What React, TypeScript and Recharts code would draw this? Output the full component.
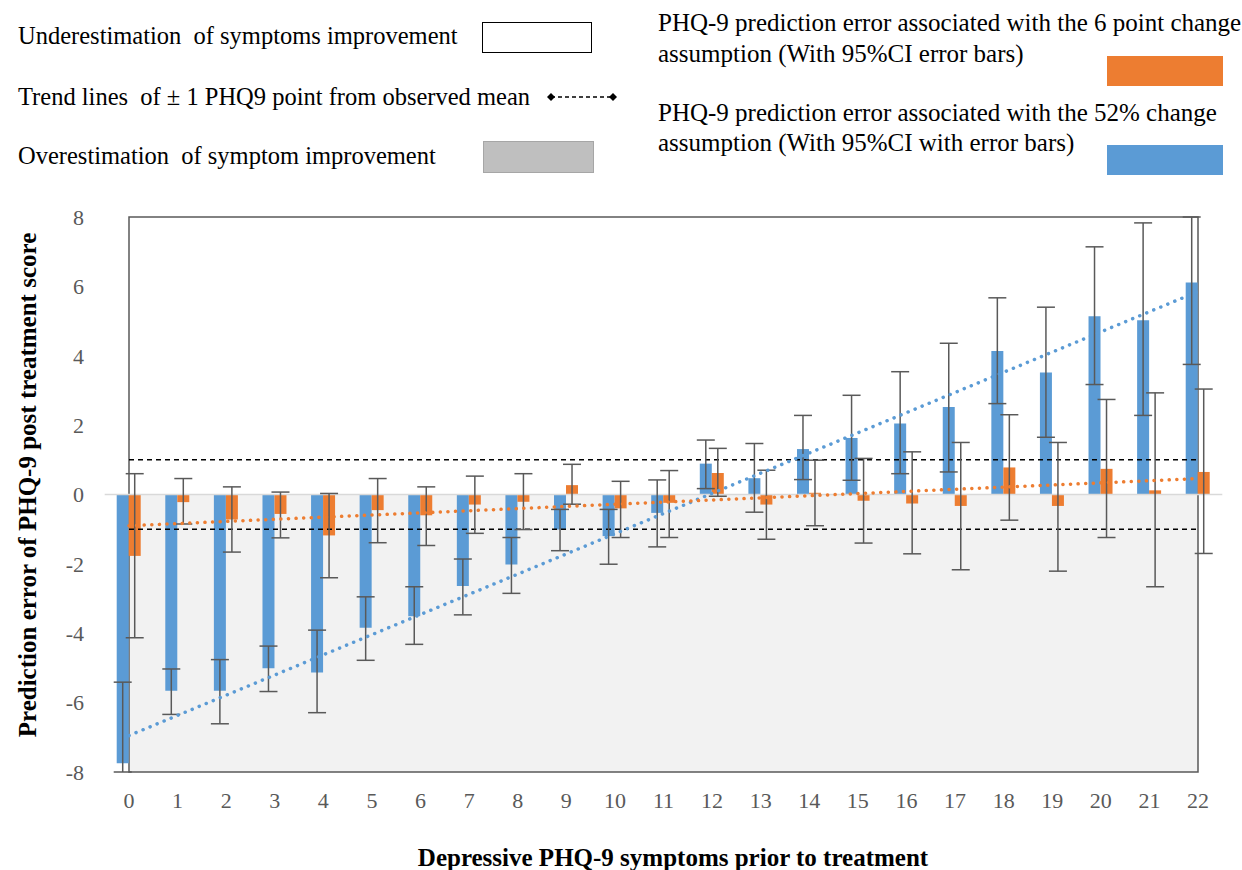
import React from 'react';
import {
  ComposedChart,
  Bar,
  Line,
  XAxis,
  YAxis,
  ErrorBar,
  ReferenceArea,
  ReferenceLine
} from 'recharts';

// PHQ-9 score before treatment (x categories)
const scores = [0, 1, 2, 3, 4, 5, 6, 7, 8, 9, 10, 11, 12, 13, 14, 15, 16, 17, 18, 19, 20, 21, 22];

// 52% change assumption (blue), mean and 95% CI
const pctMean = [-7.75, -5.66, -5.66, -5.01, -5.13, -3.84, -3.51, -2.64, -2.02, -1.01, -1.2, -0.53, 0.89, 0.47, 1.31, 1.63, 2.05, 2.52, 4.14, 3.52, 5.14, 5.02, 6.11];
const pctLow = [-8, -6.34, -6.61, -5.68, -6.29, -4.78, -4.32, -3.47, -2.85, -1.62, -2.01, -1.51, 0.17, -0.51, 0.43, 0.41, 0.6, 0.65, 2.62, 1.65, 3.17, 2.28, 3.75];
const pctHigh = [-5.41, -5.03, -4.76, -4.37, -3.91, -2.95, -2.66, -1.86, -1.24, -0.43, -0.43, 0.42, 1.57, 1.47, 2.28, 2.86, 3.54, 4.36, 5.67, 5.4, 7.14, 7.83, 8];

// 6 point change assumption (orange), mean and 95% CI
const ptMean = [-1.77, -0.22, -0.72, -0.56, -1.18, -0.45, -0.6, -0.29, -0.21, 0.27, -0.4, -0.24, 0.62, -0.29, 0.05, -0.18, -0.26, -0.33, 0.78, -0.33, 0.74, 0.12, 0.65];
const ptLow = [-4.13, -0.85, -1.66, -1.25, -2.4, -1.39, -1.47, -1.12, -1.01, -0.28, -1.24, -1.24, -0.05, -1.29, -0.9, -1.4, -1.71, -2.17, -0.74, -2.21, -1.24, -2.66, -1.7];
const ptHigh = [0.6, 0.46, 0.22, 0.07, 0.03, 0.46, 0.22, 0.53, 0.6, 0.87, 0.38, 0.69, 1.33, 0.7, 0.99, 1.04, 1.23, 1.5, 2.3, 1.5, 2.74, 2.93, 3.04];

// linear trend lines, read at both ends
const pctTrend = [{ score: 0, trend: -6.95 }, { score: 22, trend: 5.85 }];
const ptTrend = [{ score: 0, trend: -0.9 }, { score: 22, trend: 0.46 }];

const yTicks = [-8, -6, -4, -2, 0, 2, 4, 6, 8];

const data = scores.map((s, i) => ({
  score: s,
  pct: pctMean[i],
  pctErr: [pctMean[i] - pctLow[i], pctHigh[i] - pctMean[i]],
  pt: ptMean[i],
  ptErr: [ptMean[i] - ptLow[i], ptHigh[i] - ptMean[i]]
}));

const BLUE = '#5b9bd5';
const ORANGE = '#ed7d31';
const FONT = '"Liberation Serif", "Times New Roman", serif';

const txt = (left: number, cy: number, text: string, size = 24.5) => (
  <div
    style={{
      position: 'absolute',
      left,
      top: cy - 15,
      height: 30,
      lineHeight: '30px',
      fontSize: size,
      whiteSpace: 'pre',
      color: '#000'
    }}
  >
    {text}
  </div>
);

const App = () => {
  return (
    <div style={{ position: 'absolute', left: 0, top: 0, width: 1242, height: 870, background: '#fff', fontFamily: FONT }}>
      {/* legend, left block */}
      {txt(18, 36, 'Underestimation  of symptoms improvement')}
      <div style={{ position: 'absolute', left: 482, top: 22, width: 108, height: 29, border: '1.5px solid #000', background: '#fff' }} />
      {txt(18, 97, 'Trend lines  of ± 1 PHQ9 point from observed mean')}
      <svg style={{ position: 'absolute', left: 540, top: 90 }} width={80} height={14}>
        <line x1={11} y1={7} x2={73} y2={7} stroke="#000" strokeWidth={1.3} strokeDasharray="4 3" />
        <path d="M7 7 L11 3 L15 7 L11 11 Z" fill="#000" />
        <path d="M69 7 L73 3 L77 7 L73 11 Z" fill="#000" />
      </svg>
      {txt(18, 156, 'Overestimation  of symptom improvement')}
      <div style={{ position: 'absolute', left: 483, top: 141, width: 109, height: 30, border: '1px solid #a6a6a6', background: '#bfbfbf' }} />

      {/* legend, right block */}
      {txt(658, 23, 'PHQ-9 prediction error associated with the 6 point change', 25)}
      {txt(658, 54, 'assumption (With 95%CI error bars)', 25)}
      <div style={{ position: 'absolute', left: 1107, top: 56, width: 116, height: 30, background: ORANGE }} />
      {txt(658, 113, 'PHQ-9 prediction error associated with the 52% change', 25)}
      {txt(658, 143, 'assumption (With 95%CI with error bars)', 25)}
      <div style={{ position: 'absolute', left: 1107, top: 145, width: 116, height: 30, background: BLUE }} />

      <div style={{ position: 'absolute', left: 0, top: 0 }}>
        <ComposedChart
          width={1242}
          height={870}
          data={data}
          barGap={0}
          margin={{ top: 217, right: 44, bottom: 58, left: 69 }}
        >
          <XAxis
            dataKey="score"
            type="number"
            domain={[0, 22]}
            ticks={scores}
            interval={0}
            height={40}
            axisLine={false}
            tickLine={false}
            tickSize={0}
            tickMargin={20}
            tick={{ fill: '#595959', fontSize: 22, fontFamily: FONT }}
          />
          <YAxis
            domain={[-8, 8]}
            ticks={yTicks}
            width={60}
            axisLine={false}
            tickLine={false}
            tickSize={0}
            tickMargin={45}
            tick={{ fill: '#595959', fontSize: 22, fontFamily: FONT }}
          />
          <ReferenceArea x1={0} x2={22} y1={-8} y2={0} fill="#f2f2f2" fillOpacity={1} stroke="none" />
          <ReferenceLine
            segment={[{ x: -0.5, y: 0 }, { x: 22.5, y: 0 }]}
            stroke="#d9d9d9"
            strokeWidth={1.5}
            ifOverflow="visible"
          />
          <ReferenceLine y={1} stroke="#000" strokeWidth={1.5} strokeDasharray="5 4" />
          <ReferenceLine y={-1} stroke="#000" strokeWidth={1.5} strokeDasharray="5 4" />
          <Bar dataKey="pct" fill={BLUE} barSize={12} isAnimationActive={false}>
            <ErrorBar dataKey="pctErr" width={9} stroke="#595959" strokeWidth={1.5} direction="y" />
          </Bar>
          <Bar dataKey="pt" fill={ORANGE} barSize={12} isAnimationActive={false}>
            <ErrorBar dataKey="ptErr" width={9} stroke="#595959" strokeWidth={1.5} direction="y" />
          </Bar>
          <Line
            data={pctTrend}
            dataKey="trend"
            type="linear"
            stroke={BLUE}
            strokeWidth={3.5}
            strokeDasharray="0.1 7.5"
            strokeLinecap="round"
            dot={false}
            activeDot={false}
            isAnimationActive={false}
          />
          <Line
            data={ptTrend}
            dataKey="trend"
            type="linear"
            stroke={ORANGE}
            strokeWidth={3.5}
            strokeDasharray="0.1 7.5"
            strokeLinecap="round"
            dot={false}
            activeDot={false}
            isAnimationActive={false}
          />
          <ReferenceArea x1={0} x2={22} y1={-8} y2={8} fill="none" stroke="#595959" strokeWidth={1.5} ifOverflow="visible" />
        </ComposedChart>
      </div>

      {/* axis titles */}
      <div
        style={{
          position: 'absolute',
          left: 28 - 300,
          top: 485 - 15,
          width: 600,
          height: 30,
          lineHeight: '30px',
          textAlign: 'center',
          fontSize: 25,
          fontWeight: 'bold',
          transform: 'rotate(-90deg)'
        }}
      >
        Prediction error of PHQ-9 post treatment score
      </div>
      <div
        style={{
          position: 'absolute',
          left: 373,
          top: 843,
          width: 600,
          height: 30,
          lineHeight: '30px',
          textAlign: 'center',
          fontSize: 25,
          fontWeight: 'bold'
        }}
      >
        Depressive PHQ-9 symptoms prior to treatment
      </div>
    </div>
  );
};

export default App;
